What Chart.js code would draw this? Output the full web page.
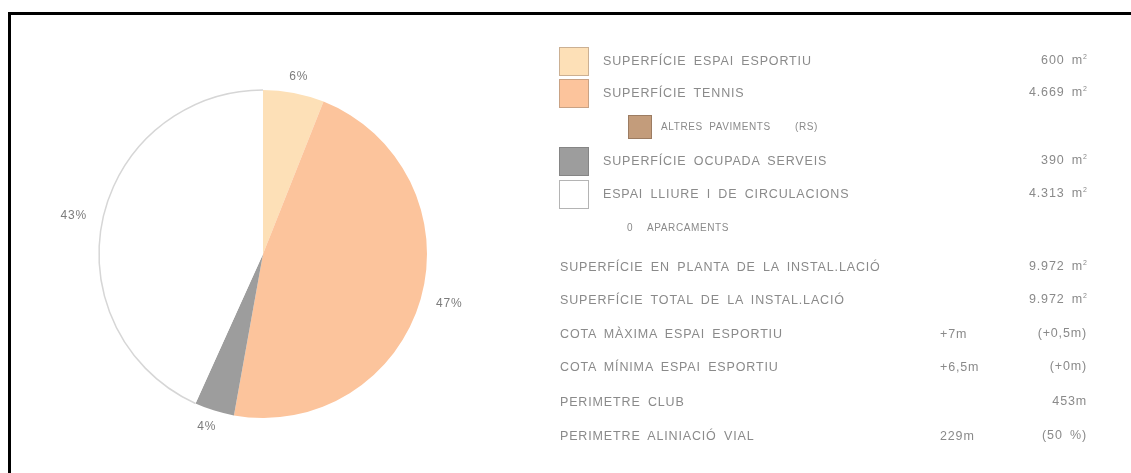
<!DOCTYPE html>
<html>
<head>
<meta charset="utf-8">
<script src="https://cdn.jsdelivr.net/npm/chart.js@4.4.0/dist/chart.umd.min.js"></script>
<style>
    html, body { margin: 0; padding: 0; background: #fff; width: 1131px; height: 473px; overflow: hidden; }
    #frame { position: absolute; left: 8px; top: 12px; right: -4px; bottom: -4px; border-top: 3px solid #000; border-left: 3px solid #000; }
    #pie { position: absolute; left: 0; top: 0; }
    .txt {
        position: absolute; white-space: nowrap; color: #8a8a8a;
        font-family: "Liberation Sans", Arial, sans-serif; font-size: 12.5px;
        letter-spacing: 0.85px; word-spacing: 3px; line-height: 14px;
        transform: translateY(-50%);
    }
    .txt.small { font-size: 10px; letter-spacing: 0.6px; }
    .txt.right { transform: translate(-100%, -50%); }
    .txt sup { font-size: 7px; vertical-align: 5px; line-height: 0; letter-spacing: 0; }
    .swatch { position: absolute; box-sizing: border-box; border: 1.5px solid #999; }
</style>
</head>
<body>
<div id="frame"></div>
<canvas id="pie" width="1131" height="473"></canvas>
<div id="panel"></div>
<script>
// Data
const categories = ["SUPERFÍCIE ESPAI ESPORTIU", "SUPERFÍCIE TENNIS", "SUPERFÍCIE OCUPADA SERVEIS", "ESPAI LLIURE I DE CIRCULACIONS"];
const areas = [600, 4669, 390, 4313];
const sliceColors = ["#fde0b7", "#fcc49c", "#9d9d9d", "#ffffff"];
const swatchBorders = ["#cbb093", "#c9a284", "#858585", "#b4b4b4"];

const otherLabel = "ALTRES PAVIMENTS";
const otherNote = "(RS)";
const otherColor = "#c39c7b";
const parkingCount = 0;
const parkingLabel = "APARCAMENTS";

const summaryLabels = [
    "SUPERFÍCIE EN PLANTA DE LA INSTAL.LACIÓ",
    "SUPERFÍCIE TOTAL DE LA INSTAL.LACIÓ",
    "COTA MÀXIMA ESPAI ESPORTIU",
    "COTA MÍNIMA ESPAI ESPORTIU",
    "PERIMETRE CLUB",
    "PERIMETRE ALINIACIÓ VIAL"
];
const summaryMid = ["", "", "+7m", "+6,5m", "", "229m"];
const summaryRight = ["9.972 m²", "9.972 m²", "(+0,5m)", "(+0m)", "453m", "(50 %)"];

// Layout (pixels)
const legendRowY = [61, 93, 161, 194];
const otherRowY = 127;
const parkingRowY = 228;
const summaryRowY = [267, 300, 334, 367, 402, 436];

function fmtThousands(n) {
    return String(n).replace(/\B(?=(\d{3})+(?!\d))/g, ".");
}

function withSup(text) {
    return text.replace("²", "<sup>2</sup>");
}

function addText(html, x, y, cls) {
    const el = document.createElement("div");
    el.className = "txt " + (cls || "");
    el.style.left = x + "px";
    el.style.top = y + "px";
    el.innerHTML = html;
    document.getElementById("panel").appendChild(el);
}

function addSwatch(x, y, w, h, fill, border) {
    const el = document.createElement("div");
    el.className = "swatch";
    el.style.left = x + "px";
    el.style.top = (y - h / 2) + "px";
    el.style.width = w + "px";
    el.style.height = h + "px";
    el.style.background = fill;
    el.style.borderColor = border;
    document.getElementById("panel").appendChild(el);
}

// Legend rows
categories.forEach((c, i) => {
    addSwatch(559, legendRowY[i], 30, 29, sliceColors[i], swatchBorders[i]);
    addText(c, 603, legendRowY[i]);
    addText(withSup(fmtThousands(areas[i]) + " m²"), 1087, legendRowY[i] - 1, "right");
});
addSwatch(628, otherRowY, 24, 24, otherColor, "#9c7c62");
addText(otherLabel, 661, otherRowY, "small");
addText(otherNote, 795, otherRowY, "small");
addText(String(parkingCount), 627, parkingRowY, "small");
addText(parkingLabel, 647, parkingRowY, "small");

summaryLabels.forEach((s, i) => {
    addText(s, 560, summaryRowY[i]);
    if (summaryMid[i]) addText(summaryMid[i], 940, summaryRowY[i]);
    addText(withSup(summaryRight[i]), 1087, summaryRowY[i] - 1, "right");
});

// Pie labels + outline of the white slice
const pieExtras = {
    id: "pieExtras",
    afterDatasetsDraw(chart) {
        const ctx = chart.ctx;
        const meta = chart.getDatasetMeta(0);
        const total = areas.reduce((a, b) => a + b, 0);
        ctx.save();

        // light outline round the white slice
        const last = meta.data[meta.data.length - 1];
        const p = last.getProps(["x", "y", "startAngle", "endAngle", "outerRadius"], true);
        ctx.strokeStyle = "#d6d6d6";
        ctx.lineWidth = 1.5;
        ctx.beginPath();
        ctx.arc(p.x, p.y, p.outerRadius, p.startAngle, p.endAngle);
        ctx.stroke();

        ctx.font = '12px "Liberation Sans", Arial, sans-serif';
        ctx.letterSpacing = "0.8px";
        ctx.fillStyle = "#7c7c7c";
        ctx.textAlign = "center";
        ctx.textBaseline = "middle";
        meta.data.forEach((arc, i) => {
            const a = arc.getProps(["x", "y", "startAngle", "endAngle", "outerRadius"], true);
            const mid = (a.startAngle + a.endAngle) / 2;
            const label = Math.round(areas[i] / total * 100) + "%";
            const w = ctx.measureText(label).width;
            const r = a.outerRadius * 1.1;
            ctx.fillText(label, a.x + Math.cos(mid) * (r + w / 2), a.y + Math.sin(mid) * r);
        });
        ctx.restore();
    }
};

new Chart(document.getElementById("pie"), {
    type: "pie",
    data: {
        labels: categories,
        datasets: [{
            data: areas,
            backgroundColor: sliceColors,
            borderWidth: 0,
            radius: 164
        }]
    },
    options: {
        responsive: false,
        animation: false,
        events: [],
        layout: { padding: { left: 0, right: 605, top: 35, bottom: 0 } },
        plugins: {
            legend: { display: false },
            tooltip: { enabled: false }
        }
    },
    plugins: [pieExtras]
});
</script>
</body>
</html>
